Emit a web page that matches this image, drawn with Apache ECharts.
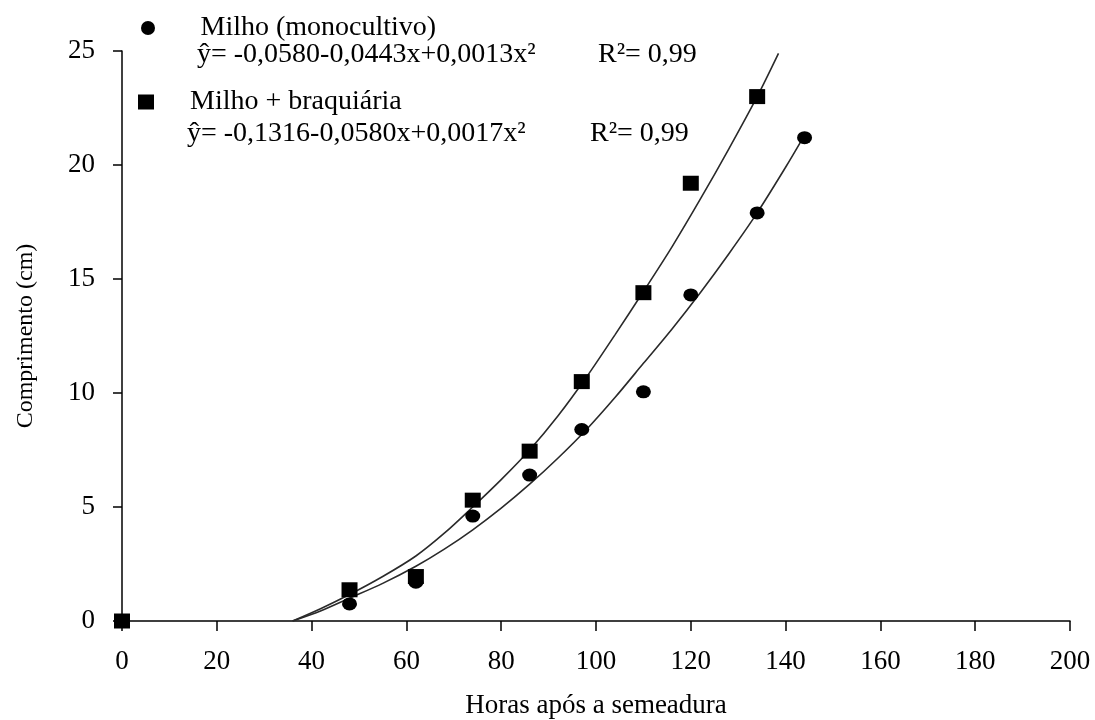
<!DOCTYPE html>
<html>
<head>
<meta charset="utf-8">
<script src="https://cdn.jsdelivr.net/npm/echarts@6/dist/echarts.min.js"></script>
<style>
html,body{margin:0;padding:0;background:#fff;}
#chart{width:1095px;height:720px;}
</style>
</head>
<body>
<div id="chart"></div>
<script>
// ---- data ----
const xTicks = [0, 20, 40, 60, 80, 100, 120, 140, 160, 180, 200];
const yTicks = [0, 5, 10, 15, 20, 25];

const seriesNames = ['Milho (monocultivo)', 'Milho + braquiária'];
const equations = ['ŷ= -0,0580-0,0443x+0,0013x²', 'ŷ= -0,1316-0,0580x+0,0017x²'];
const r2Labels = ['R²= 0,99', 'R²= 0,99'];

// observed points
const monoHours  = [0, 48, 62, 74, 86, 97, 110, 120, 134, 144];
const monoLength = [0, 0.75, 1.7, 4.6, 6.4, 8.4, 10.05, 14.3, 17.9, 21.2];
const braqHours  = [0, 48, 62, 74, 86, 97, 110, 120, 134];
const braqLength = [0, 1.37, 1.95, 5.3, 7.45, 10.5, 14.4, 19.2, 23.0];

// fitted curves
const monoCurveX = [36, 42, 48, 55, 62, 68, 74, 80, 86, 92, 98, 104, 110, 116, 122, 128, 134, 140, 143.7];
const monoCurveY = [0, 0.45, 1.0, 1.65, 2.4, 3.15, 4.0, 4.95, 6.0, 7.15, 8.4, 9.8, 11.3, 12.8, 14.4, 16.1, 17.9, 19.9, 21.2];
const braqCurveX = [36, 42, 48, 55, 62, 68, 74, 80, 86, 92, 98, 104, 110, 116, 122, 128, 134, 138.5];
const braqCurveY = [0, 0.55, 1.16, 1.95, 2.85, 3.85, 5.0, 6.2, 7.5, 9.0, 10.7, 12.55, 14.45, 16.4, 18.5, 20.7, 23.0, 24.9];

const zip = (a, b) => a.map((v, i) => [v, b[i]]);

const FONT = '"Liberation Serif", "Times New Roman", serif';
const chart = echarts.init(document.getElementById('chart'));

chart.setOption({
  animation: false,
  backgroundColor: '#fff',
  textStyle: { fontFamily: FONT, color: '#000' },
  grid: { left: 122, right: 25, top: 51, bottom: 99, outerBoundsMode: 'none', containLabel: false },
  legend: [
    {
      data: [{ name: seriesNames[0], icon: 'circle' }],
      left: 136, top: 9, itemWidth: 15, itemHeight: 14, selectedMode: false,
      itemStyle: { color: '#000', opacity: 1 },
      textStyle: { fontFamily: FONT, fontSize: 28, color: '#000', padding: [0, 0, 0, 40] }
    },
    {
      data: [{ name: seriesNames[1], icon: 'rect' }],
      left: 133, top: 83, itemWidth: 16, itemHeight: 15, selectedMode: false,
      itemStyle: { color: '#000', opacity: 1 },
      textStyle: { fontFamily: FONT, fontSize: 28, color: '#000', padding: [0, 0, 0, 31] }
    }
  ],
  graphic: [
    { type: 'text', left: 197, top: 41, style: { text: equations[0], font: '28px ' + FONT, fill: '#000' } },
    { type: 'text', left: 598, top: 41, style: { text: r2Labels[0], font: '28px ' + FONT, fill: '#000' } },
    { type: 'text', left: 187, top: 120, style: { text: equations[1], font: '28px ' + FONT, fill: '#000' } },
    { type: 'text', left: 590, top: 120, style: { text: r2Labels[1], font: '28px ' + FONT, fill: '#000' } }
  ],
  xAxis: {
    type: 'value', min: xTicks[0], max: xTicks[xTicks.length - 1], interval: xTicks[1] - xTicks[0],
    name: 'Horas após a semeadura', nameLocation: 'middle', nameGap: 71,
    nameTextStyle: { fontFamily: FONT, fontSize: 27, color: '#000' },
    axisLine: { show: true, onZero: false, lineStyle: { color: '#000', width: 1.5 } },
    axisTick: { show: true, inside: false, length: 10, lineStyle: { color: '#000', width: 1.5 } },
    axisLabel: { fontFamily: FONT, fontSize: 27, color: '#000', margin: 27 },
    splitLine: { show: false }
  },
  yAxis: {
    type: 'value', min: yTicks[0], max: yTicks[yTicks.length - 1], interval: yTicks[1] - yTicks[0],
    name: 'Comprimento (cm)', nameLocation: 'middle', nameGap: 84, nameRotate: 90,
    nameTextStyle: { fontFamily: FONT, fontSize: 24, color: '#000' },
    axisLine: { show: true, onZero: false, lineStyle: { color: '#000', width: 1.5 } },
    axisTick: { show: true, inside: false, length: 9, lineStyle: { color: '#000', width: 1.5 } },
    axisLabel: { fontFamily: FONT, fontSize: 27, color: '#000', margin: 27 },
    splitLine: { show: false }
  },
  series: [
    {
      name: 'curve-mono', type: 'line', data: zip(monoCurveX, monoCurveY), smooth: 0.3,
      showSymbol: false, lineStyle: { color: '#2a2a2a', width: 1.6 }, z: 2, silent: true
    },
    {
      name: 'curve-braq', type: 'line', data: zip(braqCurveX, braqCurveY), smooth: 0.3,
      showSymbol: false, lineStyle: { color: '#2a2a2a', width: 1.6 }, z: 2, silent: true
    },
    {
      name: seriesNames[0], type: 'scatter', data: zip(monoHours, monoLength),
      symbol: 'circle', symbolSize: [15, 13], itemStyle: { color: '#000', opacity: 1 }, z: 3
    },
    {
      name: seriesNames[1], type: 'scatter', data: zip(braqHours, braqLength),
      symbol: 'rect', symbolSize: [16, 15], itemStyle: { color: '#000', opacity: 1 }, z: 4
    }
  ]
});
</script>
</body>
</html>
